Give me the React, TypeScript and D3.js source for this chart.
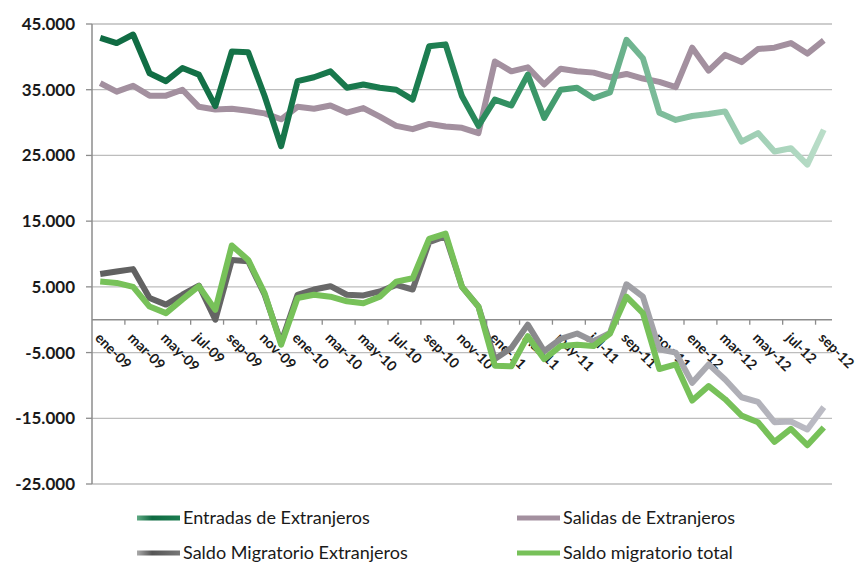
import React, { useEffect, useRef } from "react";
import * as d3 from "d3";

const monthNames = ["ene", "feb", "mar", "abr", "may", "jun", "jul", "ago", "sep", "oct", "nov", "dic"];
const years = ["09", "10", "11", "12"];
const months: string[] = [];
years.forEach((y) => monthNames.forEach((m) => months.push(`${m}-${y}`)));
const categories = months.slice(0, 45);

const entradas = [
  42900, 42100, 43400, 37500, 36300, 38300, 37300, 32500, 40800, 40700, 34000, 26400,
  36300, 36900, 37800, 35300, 35800, 35300, 35000, 33500, 41600, 41900, 34000, 29500,
  33500, 32600, 37300, 30700, 35000, 35300, 33700, 34600, 42600, 39800, 31500, 30400,
  31000, 31300, 31700, 27100, 28400, 25600, 26100, 23600, 28900,
];
const salidas = [
  36000, 34700, 35600, 34100, 34100, 35000, 32400, 32000, 32100, 31800, 31400, 30500,
  32400, 32100, 32600, 31500, 32200, 30900, 29500, 29000, 29800, 29400, 29200, 28400,
  39300, 37800, 38400, 35800, 38200, 37800, 37600, 36900, 37400, 36700, 36200, 35400,
  41400, 37900, 40300, 39200, 41200, 41400, 42100, 40500, 42500,
];
const saldoExtranjeros = [
  6950, 7350, 7700, 3300, 2300, 3800, 5200, 0, 9100, 8900, 3800, -3500,
  3800, 4600, 5100, 3800, 3700, 4300, 5300, 4600, 11800, 12700, 5000, 2000,
  -6000, -4300, -750, -4800, -2900, -2100, -3300, -2000, 5400, 3500, -4500, -5000,
  -9600, -6800, -9100, -11800, -12500, -15600, -15500, -16700, -13300,
];
const saldoTotal = [
  5800, 5600, 5000, 2000, 1000, 3100, 5100, 1500, 11300, 9100, 4000, -3800,
  3300, 3800, 3500, 2800, 2500, 3500, 5800, 6300, 12300, 13100, 5000, 2000,
  -7000, -7100, -2500, -6000, -4000, -3800, -4000, -2100, 3500, 1000, -7500, -6800,
  -12300, -10100, -12100, -14600, -15600, -18600, -16600, -19100, -16400,
];
const yTicks = [45000, 35000, 25000, 15000, 5000, -5000, -15000, -25000];

const series = [
  { name: "Salidas de Extranjeros", values: salidas, stroke: "#a3909f" },
  { name: "Entradas de Extranjeros", values: entradas, stroke: "url(#gradEntradas)" },
  { name: "Saldo Migratorio Extranjeros", values: saldoExtranjeros, stroke: "url(#gradSaldoExt)" },
  { name: "Saldo migratorio total", values: saldoTotal, stroke: "#77c159" },
];

const legendItems = [
  { name: "Entradas de Extranjeros", stroke: "url(#legEntradas)", col: 0, row: 0 },
  { name: "Salidas de Extranjeros", stroke: "#a3909f", col: 1, row: 0 },
  { name: "Saldo Migratorio Extranjeros", stroke: "url(#legSaldoExt)", col: 0, row: 1 },
  { name: "Saldo migratorio total", stroke: "#77c159", col: 1, row: 1 },
];

const fmt = (v: number) => d3.format(",")(v).replace(/,/g, ".").replace("−", "-");

const App = () => {
  const ref = useRef<SVGSVGElement>(null);

  useEffect(() => {
    const svg = d3.select(ref.current);
    svg.selectAll("*").remove();

    const width = 858;
    const height = 565;
    const left = 92;
    const right = 832;
    const top = 24;
    const bottom = 484;

    const x = d3.scaleBand().domain(categories).range([left, right]);
    const y = d3.scaleLinear().domain([-25000, 45000]).range([bottom, top]);
    const cx = (i: number) => (x(categories[i]) as number) + x.bandwidth() / 2;

    svg.append("rect").attr("width", width).attr("height", height).attr("fill", "#fff");

    const defs = svg.append("defs");
    const addGrad = (id: string, x1: number, x2: number, stops: [number, string][]) => {
      const g = defs
        .append("linearGradient")
        .attr("id", id)
        .attr("gradientUnits", "userSpaceOnUse")
        .attr("x1", x1)
        .attr("x2", x2)
        .attr("y1", 0)
        .attr("y2", 0);
      stops.forEach(([o, c]) => g.append("stop").attr("offset", o).attr("stop-color", c));
    };
    addGrad("gradEntradas", left, right, [
      [0, "#0f6a42"],
      [0.45, "#1c7d50"],
      [0.6, "#3a9768"],
      [0.75, "#78b996"],
      [1, "#bddfcb"],
    ]);
    addGrad("gradSaldoExt", left, right, [
      [0, "#606060"],
      [0.45, "#6c6c6c"],
      [0.7, "#9d9da2"],
      [1, "#bdbdc6"],
    ]);
    // legend swatches sit in a translated group starting at 0
    addGrad("legEntradas", 0, 43, [
      [0, "#5fa983"],
      [0.35, "#0f6a42"],
      [1, "#1c7d50"],
    ]);
    addGrad("legSaldoExt", 0, 43, [
      [0, "#aaa"],
      [0.35, "#555"],
      [1, "#777"],
    ]);

    // gridlines
    svg
      .append("g")
      .selectAll("line")
      .data(yTicks)
      .enter()
      .append("line")
      .attr("x1", left)
      .attr("x2", right)
      .attr("y1", (d) => y(d))
      .attr("y2", (d) => y(d))
      .attr("stroke", "#bdbdbd")
      .attr("stroke-width", 1.3);

    // y axis
    const yAxis = svg.append("g");
    yAxis
      .append("line")
      .attr("x1", left)
      .attr("x2", left)
      .attr("y1", top)
      .attr("y2", bottom)
      .attr("stroke", "#8c8c8c")
      .attr("stroke-width", 1.5);
    yAxis
      .selectAll("line.tick")
      .data(yTicks)
      .enter()
      .append("line")
      .attr("class", "tick")
      .attr("x1", left - 6)
      .attr("x2", left)
      .attr("y1", (d) => y(d))
      .attr("y2", (d) => y(d))
      .attr("stroke", "#8c8c8c")
      .attr("stroke-width", 1.3);
    yAxis
      .selectAll("text")
      .data(yTicks)
      .enter()
      .append("text")
      .attr("x", left - 17)
      .attr("y", (d) => y(d))
      .attr("dy", "0.35em")
      .attr("text-anchor", "end")
      .attr("font-family", "Lato, sans-serif")
      .attr("font-weight", "bold")
      .attr("font-size", 17)
      .attr("fill", "#1a1a1a")
      .text((d) => fmt(d));

    // x axis at zero
    const y0 = y(0);
    svg
      .append("line")
      .attr("x1", left)
      .attr("x2", right)
      .attr("y1", y0)
      .attr("y2", y0)
      .attr("stroke", "#8c8c8c")
      .attr("stroke-width", 1.6);
    const tickIdx = d3.range(2, 45, 2);
    svg
      .append("g")
      .selectAll("line")
      .data(tickIdx)
      .enter()
      .append("line")
      .attr("x1", (i) => x(categories[i]) as number)
      .attr("x2", (i) => x(categories[i]) as number)
      .attr("y1", y0)
      .attr("y2", y0 + 5)
      .attr("stroke", "#8c8c8c")
      .attr("stroke-width", 1.3);

    const labelIdx = d3.range(0, 45, 2);
    svg
      .append("g")
      .selectAll("text")
      .data(labelIdx)
      .enter()
      .append("text")
      .attr("transform", (i) => `translate(${cx(i) - 6},${y0 + 19}) rotate(45)`)
      .attr("font-family", "Lato, sans-serif")
      .attr("font-weight", "bold")
      .attr("font-size", 14)
      .attr("fill", "#1a1a1a")
      .text((i) => categories[i]);

    // series
    const line = d3
      .line<number>()
      .x((_, i) => cx(i))
      .y((d) => y(d));

    svg
      .append("g")
      .selectAll("path")
      .data(series)
      .enter()
      .append("path")
      .attr("d", (s) => line(s.values))
      .attr("fill", "none")
      .attr("stroke", (s) => s.stroke)
      .attr("stroke-width", 6)
      .attr("stroke-linejoin", "round");

    // legend
    const colX = [137, 517];
    const rowY = [518, 553];
    const leg = svg
      .append("g")
      .selectAll("g")
      .data(legendItems)
      .enter()
      .append("g")
      .attr("transform", (d) => `translate(${colX[d.col]},${rowY[d.row]})`);
    leg
      .append("line")
      .attr("x1", 0)
      .attr("x2", 43)
      .attr("y1", 0)
      .attr("y2", 0)
      .attr("stroke", (d) => d.stroke)
      .attr("stroke-width", 5);
    leg
      .append("text")
      .attr("x", 46)
      .attr("y", 0)
      .attr("dy", "0.35em")
      .attr("font-family", "Lato, sans-serif")
      .attr("font-size", 18)
      .attr("fill", "#1a1a1a")
      .text((d) => d.name);
  }, []);

  return (
    <svg
      ref={ref}
      width={858}
      height={565}
      style={{ position: "absolute", left: 0, top: 0 }}
    ></svg>
  );
};

export default App;
